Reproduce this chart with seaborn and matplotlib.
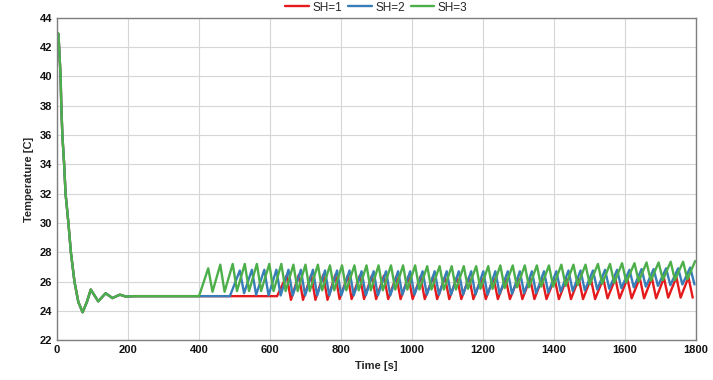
import pandas as pd
import seaborn as sns
import matplotlib.pyplot as plt

# start-up transient, same for all three cases
start_t = [0, 4, 10, 12, 15, 20, 24, 32, 39, 49, 60, 72, 84, 95, 116, 137, 156, 177, 194, 215]
start_T = [43.0, 42.9, 40.0, 38.0, 36.0, 34.0, 32.0, 30.0, 28.0, 26.0, 24.6, 23.9, 24.6, 25.45,
           24.65, 25.2, 24.87, 25.1, 24.97, 25.0]

# SH=1 (red) - turns on later
sh1_on = 620
sh1_peak_t = [647, 681, 716, 750, 784, 819, 853, 887, 921, 956, 990, 1024, 1059, 1093, 1127, 1161, 1196,
              1230, 1264, 1299, 1333, 1367, 1402, 1436, 1470, 1504, 1539, 1573, 1607, 1642, 1676, 1710,
              1745, 1779]
sh1_peak_T = [26.4, 26.45, 26.45, 26.45, 26.45, 26.4, 26.4, 26.4, 26.4, 26.35, 26.35, 26.35, 26.3, 26.3,
              26.3, 26.3, 26.25, 26.25, 26.2, 26.2, 26.2, 26.2, 26.2, 26.2, 26.2, 26.2, 26.2, 26.2, 26.2,
              26.25, 26.25, 26.25, 26.3, 26.3]
sh1_low_t = [659, 693, 728, 762, 796, 830, 865, 899, 933, 968, 1002, 1036, 1071, 1105, 1139, 1173, 1208,
             1242, 1276, 1311, 1345, 1379, 1414, 1448, 1482, 1516, 1551, 1585, 1619, 1654, 1688, 1722,
             1757, 1791]
sh1_low_T = [24.75, 24.75, 24.75, 24.75, 24.8, 24.8, 24.8, 24.8, 24.8, 24.8, 24.8, 24.8, 24.8, 24.8,
             24.8, 24.8, 24.8, 24.8, 24.8, 24.8, 24.8, 24.8, 24.8, 24.8, 24.8, 24.8, 24.85, 24.85, 24.85,
             24.85, 24.85, 24.9, 24.9, 24.9]

# SH=2 (blue)
sh2_on = 487
sh2_peak_t = [515, 549, 584, 618, 652, 687, 721, 755, 789, 824, 858, 892, 927, 961, 995, 1030, 1064,
              1098, 1132, 1167, 1201, 1235, 1270, 1304, 1338, 1372, 1407, 1441, 1475, 1510, 1544, 1578,
              1613, 1647, 1681, 1716, 1750, 1784]
sh2_peak_T = [26.75, 26.8, 26.8, 26.8, 26.8, 26.8, 26.8, 26.75, 26.75, 26.75, 26.7, 26.7, 26.7, 26.7,
              26.7, 26.7, 26.7, 26.7, 26.7, 26.7, 26.7, 26.7, 26.7, 26.7, 26.7, 26.7, 26.7, 26.75, 26.75,
              26.75, 26.8, 26.8, 26.8, 26.85, 26.85, 26.9, 26.9, 26.95]
sh2_low_t = [527, 561, 596, 630, 664, 699, 733, 767, 801, 836, 870, 904, 939, 973, 1007, 1042, 1076,
             1110, 1144, 1179, 1213, 1247, 1282, 1316, 1350, 1384, 1419, 1453, 1487, 1522, 1556, 1590,
             1625, 1659, 1693, 1728, 1762, 1796]
sh2_low_T = [25.2, 25.1, 25.05, 25.05, 25.05, 25.05, 25.05, 25.05, 25.05, 25.05, 25.05, 25.05, 25.05,
             25.1, 25.1, 25.1, 25.1, 25.1, 25.1, 25.1, 25.1, 25.15, 25.15, 25.2, 25.2, 25.25, 25.3, 25.35,
             25.4, 25.45, 25.5, 25.55, 25.6, 25.65, 25.7, 25.75, 25.8, 25.8]

# SH=3 (green)
sh3_on = 400
sh3_peak_t = [426, 460, 495, 529, 563, 598, 632, 666, 700, 735, 769, 803, 838, 872, 906, 941, 975, 1009,
              1043, 1078, 1112, 1146, 1181, 1215, 1249, 1284, 1318, 1352, 1386, 1421, 1455, 1489, 1524,
              1558, 1592, 1627, 1661, 1695, 1729, 1764, 1798]
sh3_peak_T = [26.9, 27.15, 27.2, 27.2, 27.2, 27.2, 27.2, 27.15, 27.15, 27.15, 27.1, 27.1, 27.1, 27.1,
              27.1, 27.1, 27.1, 27.1, 27.05, 27.05, 27.05, 27.05, 27.05, 27.05, 27.1, 27.1, 27.1, 27.1,
              27.1, 27.15, 27.15, 27.15, 27.2, 27.2, 27.25, 27.25, 27.3, 27.3, 27.35, 27.35, 27.4]
sh3_low_t = [438, 472, 507, 541, 575, 610, 644, 678, 712, 747, 781, 815, 850, 884, 918, 953, 987, 1021,
             1055, 1090, 1124, 1158, 1193, 1227, 1261, 1296, 1330, 1364, 1398, 1433, 1467, 1501, 1536,
             1570, 1604, 1639, 1673, 1707, 1741, 1776]
sh3_low_T = [25.3, 25.3, 25.35, 25.35, 25.35, 25.35, 25.35, 25.35, 25.35, 25.4, 25.4, 25.4, 25.4, 25.4,
             25.4, 25.45, 25.45, 25.45, 25.45, 25.45, 25.45, 25.5, 25.5, 25.5, 25.55, 25.6, 25.6, 25.65,
             25.65, 25.7, 25.75, 25.8, 25.85, 25.9, 25.95, 26.0, 26.05, 26.1, 26.1, 26.15]

labels = ['SH=1', 'SH=2', 'SH=3']
colors = ['#E41A1C', '#377EB8', '#4DAF4A']


def build(name, t_on, pk_t, pk_T, lo_t, lo_T):
    t = start_t + [t_on]
    T = start_T + [25.0]
    for i in range(len(pk_t)):
        t.append(pk_t[i]); T.append(pk_T[i])
        if i < len(lo_t):
            t.append(lo_t[i]); T.append(lo_T[i])
    return pd.DataFrame({'Time': t, 'Temp': T, 'case': name})


df = pd.concat([
    build('SH=1', sh1_on, sh1_peak_t, sh1_peak_T, sh1_low_t, sh1_low_T),
    build('SH=2', sh2_on, sh2_peak_t, sh2_peak_T, sh2_low_t, sh2_low_T),
    build('SH=3', sh3_on, sh3_peak_t, sh3_peak_T, sh3_low_t, sh3_low_T),
])

sns.set_style('white')
plt.rcParams['font.family'] = ['Liberation Sans', 'DejaVu Sans']

fig, ax = plt.subplots(figsize=(7.13, 3.80), dpi=100)
fig.subplots_adjust(left=0.08, right=0.976, top=0.953, bottom=0.105)

sns.lineplot(data=df, x='Time', y='Temp', hue='case', hue_order=labels,
             palette=colors, estimator=None, sort=False, linewidth=1.7,
             solid_joinstyle='round', solid_capstyle='round', ax=ax)

ax.set_xlim(0, 1800)
ax.set_ylim(22, 44)
ax.set_xticks(range(0, 1801, 200))
ax.set_yticks(range(22, 45, 2))
ax.grid(True, color='#d6d6d6', linewidth=0.8)
ax.set_axisbelow(True)
for s in ax.spines.values():
    s.set_color('#7f7f7f')
    s.set_linewidth(1.0)
ax.tick_params(axis='both', direction='in', length=4, color='#7f7f7f', labelsize=8, labelcolor='#111111')
for lab in ax.get_xticklabels() + ax.get_yticklabels():
    lab.set_fontweight('bold')
ax.set_xlabel('Time [s]', fontsize=8, fontweight='bold')
ax.set_ylabel('Temperature [C]', fontsize=8, fontweight='bold')

ax.legend(loc='lower center', bbox_to_anchor=(0.5, 0.995), ncol=3, frameon=False, fontsize=8.5,
          handlelength=2.0, columnspacing=0.5, handletextpad=0.3, borderaxespad=0.1)

plt.savefig('out.png', dpi=100)
